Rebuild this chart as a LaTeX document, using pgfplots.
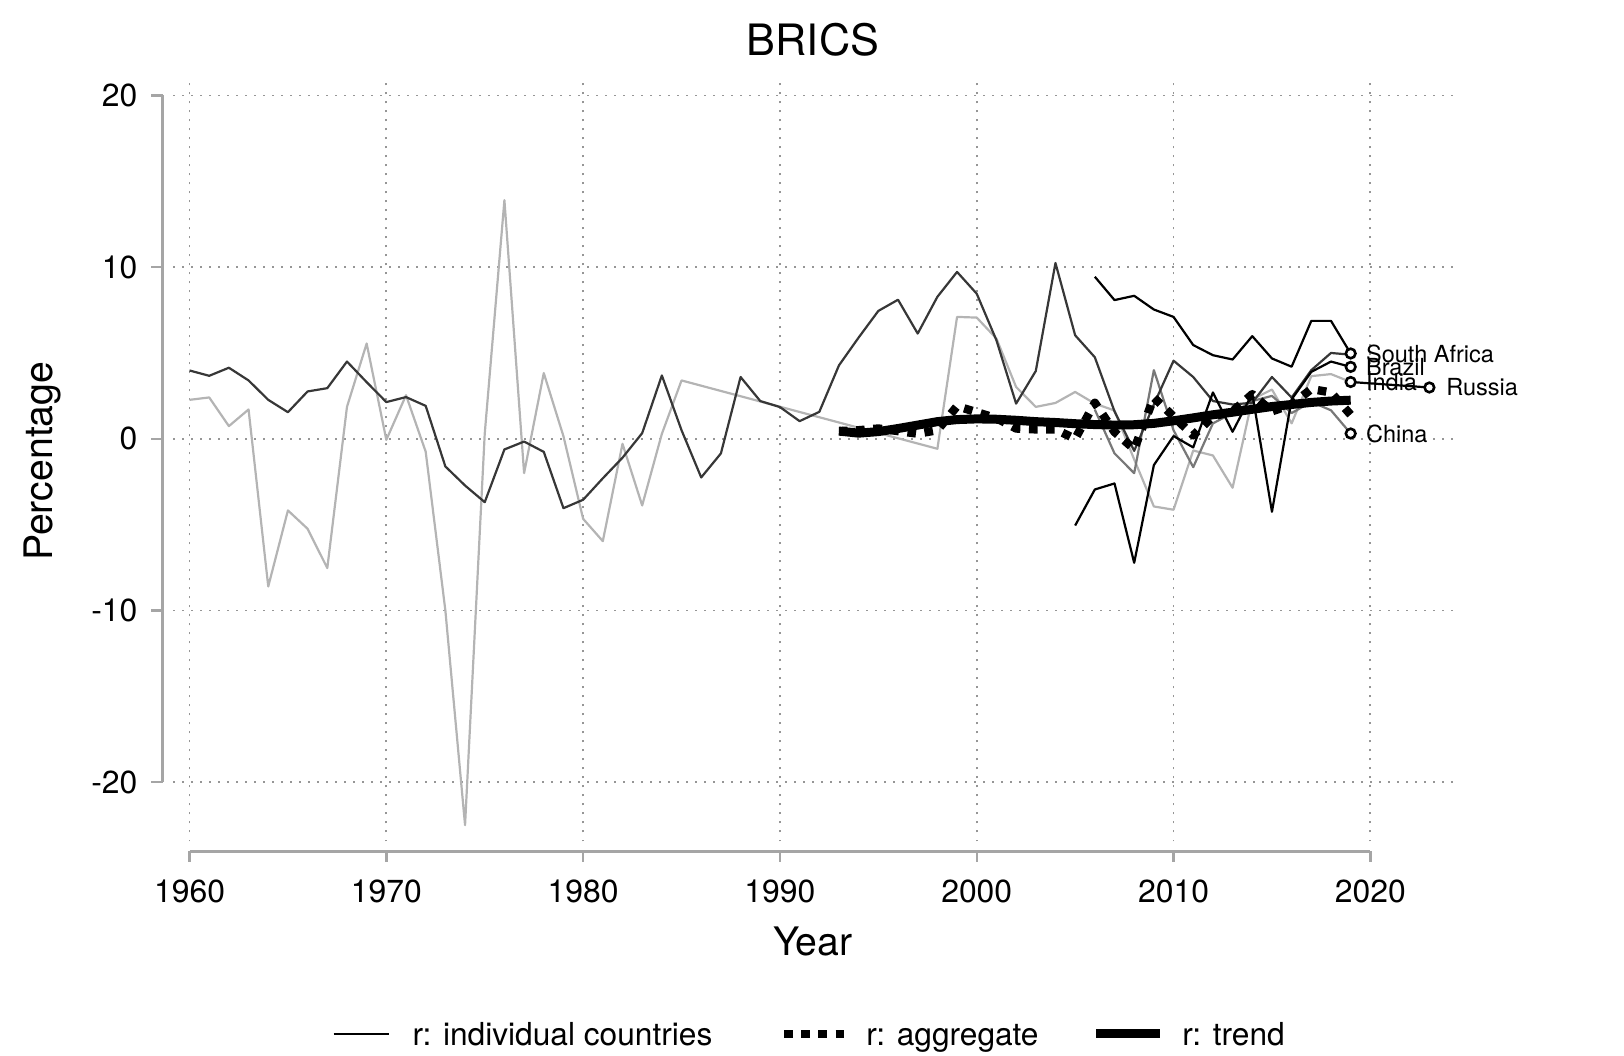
\documentclass[border=0pt]{standalone}
\usepackage{pgfplots}
\pgfplotsset{compat=1.18}
\usepackage{fontspec}
\setmainfont{TeX Gyre Heros}
\definecolor{cA}{RGB}{55,55,55}
\definecolor{cM}{RGB}{120,120,120}
\definecolor{cL}{RGB}{180,180,180}
\definecolor{gridc}{RGB}{150,150,150}
\definecolor{axc}{RGB}{165,165,165}
\begin{document}
\begin{tikzpicture}
\begin{axis}[
  scale only axis, width=640bp, height=381.7bp,
  xmin=1959.16, xmax=2024.2, ymin=-23.44, ymax=21.02,
  axis line style={draw=none},
  tick style={draw=none},
  xtick={1960,1970,1980,1990,2000,2010,2020},
  ytick={-20,-10,0,10,20},
  grid=major,
  major grid style={gridc, line width=0.9bp, dash pattern=on 0.9bp off 3.6bp},
  tick label style={font=\fontsize{16}{19}\selectfont},
  /pgf/number format/assume math mode=true,
  /pgf/number format/1000 sep={},
  xticklabel style={anchor=center, yshift=-24.9bp},
  yticklabel style={anchor=east, inner sep=0pt, xshift=-17.6bp},
  clip=false,
]
% individual countries
\addplot[cL, line width=1.1bp, line join=round] coordinates {
(1960,2.27)(1961,2.41)(1962,0.74)(1963,1.71)(1964,-8.6)(1965,-4.17)(1966,-5.24)(1967,-7.53)(1968,1.86)(1969,5.55)
(1970,-0.06)(1971,2.54)(1972,-0.75)(1973,-10.0)(1974,-22.5)(1975,0.3)(1976,13.9)(1977,-2.0)(1978,3.83)(1979,0.15)
(1980,-4.66)(1981,-5.96)(1982,-0.29)(1983,-3.88)(1984,0.29)(1985,3.4)(1998,-0.58)(1999,7.1)
(2000,7.06)(2001,5.84)(2002,3.02)(2003,1.86)(2004,2.09)(2005,2.73)(2006,2.05)(2007,1.65)(2008,-1.2)(2009,-3.94)
(2010,-4.13)(2011,-0.68)(2012,-0.97)(2013,-2.85)(2014,2.3)(2015,2.87)(2016,0.9)(2017,3.65)(2018,3.77)(2019,3.31)};
\addplot[cM, line width=1.1bp, line join=round] coordinates {
(2006,1.7)(2007,-0.85)(2008,-2.0)(2009,4.0)(2010,0.5)(2011,-1.65)(2012,0.9)(2013,1.5)(2014,2.2)(2015,2.5)
(2016,1.5)(2017,2.15)(2018,1.66)(2019,0.31)};
\addplot[cA, line width=1.1bp, line join=round] coordinates {
(1960,3.98)(1961,3.67)(1962,4.14)(1963,3.40)(1964,2.27)(1965,1.55)(1966,2.76)(1967,2.95)(1968,4.50)(1969,3.30)
(1970,2.14)(1971,2.43)(1972,1.92)(1973,-1.61)(1974,-2.72)(1975,-3.69)(1976,-0.62)(1977,-0.16)(1978,-0.76)(1979,-4.04)
(1980,-3.55)(1981,-2.3)(1982,-1.1)(1983,0.33)(1984,3.69)(1985,0.5)(1986,-2.25)(1987,-0.85)(1988,3.6)(1989,2.2)
(1990,1.85)(1991,1.03)(1992,1.57)(1993,4.28)(1994,5.9)(1995,7.45)(1996,8.1)(1997,6.13)(1998,8.27)(1999,9.72)
(2000,8.45)(2001,5.74)(2002,2.05)(2003,3.95)(2004,10.24)(2005,6.03)(2006,4.75)(2007,1.6)(2008,-0.7)(2009,2.0)
(2010,4.55)(2011,3.6)(2012,2.2)(2013,2.0)(2014,2.1)(2015,3.6)(2016,2.4)(2017,4.0)(2018,5.0)(2019,4.9)};
\addplot[black, line width=1.1bp, line join=round] coordinates {
(2006,9.44)(2007,8.08)(2008,8.33)(2009,7.53)(2010,7.1)(2011,5.46)(2012,4.87)(2013,4.62)(2014,5.98)(2015,4.68)
(2016,4.2)(2017,6.87)(2018,6.87)(2019,4.97)};
\addplot[black, line width=1.1bp, line join=round] coordinates {
(2005,-5.05)(2006,-2.95)(2007,-2.6)(2008,-7.22)(2009,-1.53)(2010,0.16)(2011,-0.5)(2012,2.7)(2013,0.41)(2014,2.64)
(2015,-4.25)(2016,2.3)(2017,3.9)(2018,4.5)(2019,4.19)};
\addplot[black, line width=1.1bp] coordinates {(2019,3.31)(2023,2.99)};
% aggregate
\addplot[black, line width=4.2bp, dash pattern=on 4.3bp off 4.3bp, line cap=butt, line join=round] coordinates {
(1993,0.45)(1994,0.5)(1995,0.6)(1996,0.45)(1997,0.3)(1998,0.5)(1999,1.9)(2000,1.55)(2001,1.2)(2002,0.6)
(2003,0.55)(2004,0.55)(2005,0.0)(2006,2.1)(2007,0.4)(2008,-0.6)(2009,2.4)(2010,1.3)(2011,0.2)(2012,1.3)
(2013,1.6)(2014,2.6)(2015,1.6)(2016,2.0)(2017,2.9)(2018,2.7)(2019,1.4)};
% trend
\addplot[black, line width=4.5bp, line join=round] coordinates {
(1993,0.45)(1994,0.33)(1995,0.42)(1996,0.6)(1997,0.8)(1998,1.0)(1999,1.12)(2000,1.16)(2001,1.14)(2002,1.08)
(2003,1.0)(2004,0.95)(2005,0.88)(2006,0.83)(2007,0.8)(2008,0.82)(2009,0.9)(2010,1.05)(2011,1.22)(2012,1.4)
(2013,1.55)(2014,1.72)(2015,1.88)(2016,2.0)(2017,2.12)(2018,2.2)(2019,2.25)};
\addplot[only marks, mark=*, mark size=2.4bp, mark options={fill=white, draw=black, line width=1.3bp}] coordinates {
(2019,4.97)(2019,4.19)(2019,3.31)(2023,2.99)(2019,0.31)};
\node[anchor=west, inner sep=0pt, xshift=7.5bp, font=\fontsize{11.8}{14}\selectfont] at (axis cs:2019,4.97) {South Africa};
\node[anchor=west, inner sep=0pt, xshift=7.5bp, font=\fontsize{11.8}{14}\selectfont] at (axis cs:2019,4.19) {Brazil};
\node[anchor=west, inner sep=0pt, xshift=7.5bp, font=\fontsize{11.8}{14}\selectfont] at (axis cs:2019,3.31) {India};
\node[anchor=west, inner sep=0pt, xshift=8.3bp, font=\fontsize{11.8}{14}\selectfont] at (axis cs:2023,2.99) {Russia};
\node[anchor=west, inner sep=0pt, xshift=7.5bp, font=\fontsize{11.8}{14}\selectfont] at (axis cs:2019,0.31) {China};
\end{axis}
% offset axes (plot area lower-left at origin; x(year)=8.25+9.84*(year-1960) bp; y(v)=201.2+8.585*v bp)
\begin{scope}[axc, line width=1.2bp]
\draw (8.25bp,-5bp) -- (598.65bp,-5bp);
\foreach \xx in {8.25,106.65,205.05,303.45,401.85,500.25,598.65} {\draw (\xx bp,-5bp) -- (\xx bp,-10.5bp);}
\draw (-5.2bp,29.5bp) -- (-5.2bp,372.9bp);
\foreach \yy in {29.5,115.35,201.2,287.05,372.9} {\draw (-5.2bp,\yy bp) -- (-11.2bp,\yy bp);}
\end{scope}
% titles
\node[anchor=base, inner sep=0pt, font=\fontsize{21.7}{26}\selectfont] at (320bp,393bp) {BRICS};
\node[anchor=base, inner sep=0pt, font=\fontsize{19.7}{24}\selectfont] at (320bp,-57bp) {Year};
\node[anchor=base, inner sep=0pt, rotate=90, font=\fontsize{19.7}{24}\selectfont] at (-60.1bp,190bp) {Percentage};
% legend
\draw[black, line width=1.1bp] (80.25bp,-96.3bp) -- (108.2bp,-96.3bp);
\node[anchor=base west, inner sep=0pt, font=\fontsize{15.9}{19}\selectfont] at (119.6bp,-102bp) {r: individual countries};
\draw[black, line width=4.2bp, dash pattern=on 4.3bp off 4.3bp] (305.5bp,-96.3bp) -- (339bp,-96.3bp);
\node[anchor=base west, inner sep=0pt, font=\fontsize{15.9}{19}\selectfont] at (346.5bp,-102bp) {r: aggregate};
\draw[black, line width=4.5bp] (461.5bp,-96.3bp) -- (493.5bp,-96.3bp);
\node[anchor=base west, inner sep=0pt, font=\fontsize{15.9}{19}\selectfont] at (504.5bp,-102bp) {r: trend};
\pgfresetboundingbox
\path (-86.5bp,-107bp) rectangle (725.5bp,420.65bp);
\end{tikzpicture}
\end{document}
